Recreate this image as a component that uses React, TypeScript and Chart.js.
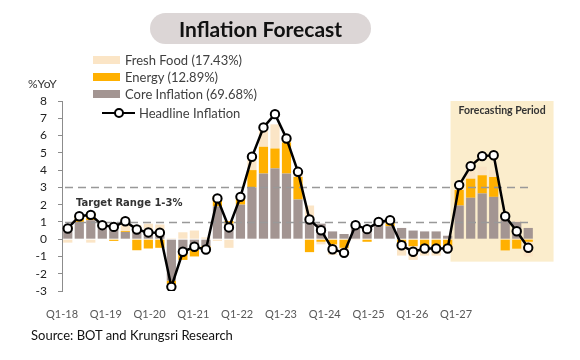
import React, { useEffect, useRef } from 'react';
import { Chart, registerables } from 'chart.js';

Chart.register(...registerables);

// ---------- data ----------
const quarters = [
  'Q1-18', 'Q2-18', 'Q3-18', 'Q4-18',
  'Q1-19', 'Q2-19', 'Q3-19', 'Q4-19',
  'Q1-20', 'Q2-20', 'Q3-20', 'Q4-20',
  'Q1-21', 'Q2-21', 'Q3-21', 'Q4-21',
  'Q1-22', 'Q2-22', 'Q3-22', 'Q4-22',
  'Q1-23', 'Q2-23', 'Q3-23', 'Q4-23',
  'Q1-24', 'Q2-24', 'Q3-24', 'Q4-24',
  'Q1-25', 'Q2-25', 'Q3-25', 'Q4-25',
  'Q1-26', 'Q2-26', 'Q3-26', 'Q4-26',
  'Q1-27', 'Q2-27', 'Q3-27', 'Q4-27',
  'Q1-28',
];

const tickLabels = ['Q1-18', 'Q1-19', 'Q1-20', 'Q1-21', 'Q1-22', 'Q1-23', 'Q1-24', 'Q1-25', 'Q1-26', 'Q1-27'];

const headline = [
  0.62, 1.33, 1.41, 0.81, 0.71, 1.04, 0.56, 0.39, 0.37, -2.76,
  -0.73, -0.44, -0.6, 2.36, 0.68, 2.45, 4.77, 6.47, 7.24, 5.83,
  3.9, 1.14, 0.52, -0.58, -0.79, 0.81, 0.58, 1.0, 1.1, -0.35,
  -0.73, -0.54, -0.54, -0.54, 3.13, 4.23, 4.81, 4.86, 1.33, 0.46,
  -0.5,
];

const core = [
  0.6, 1.0, 1.1, 0.8, 0.55, 0.42, 0.42, 0.33, 0.5, -2.4,
  -0.6, -0.6, -0.4, 1.9, 0.9, 2.0, 3.0, 3.8, 4.1, 3.8,
  2.3, 1.1, 0.9, 0.45, 0.3, 0.7, 0.7, 0.9, 0.75, 0.65,
  0.5, 0.45, 0.45, 0.2, 1.95, 2.4, 2.65, 2.45, 1.4, 1.0,
  0.65,
];

const energy = [
  0.15, 0.3, 0.45, 0.05, -0.1, 0.05, -0.64, -0.54, -0.5, -0.2,
  -0.6, -0.4, -0.2, 0.6, 0.15, 0.35, 1.0, 1.55, 1.15, 1.8,
  1.3, -0.75, -0.15, -0.3, -0.5, 0.15, -0.15, 0.1, 0.2, -0.35,
  -0.4, -0.45, -0.5, -0.4, 0.9, 1.1, 1.05, 1.15, -0.65, -0.55,
  -0.15,
];

const freshFood = [
  -0.2, 0.05, -0.2, 0, 0.2, 0.78, 0.4, 0.57, 0.35, 0.05,
  0.4, 0.5, 0.1, -0.1, -0.5, 0.05, 0.6, 0.95, 1.4, 0.3,
  0.2, 0.85, -0.15, -0.6, -0.45, -0.05, 0, 0, 0.1, -0.6,
  -0.8, -0.5, -0.45, -0.3, 0.45, 0.6, 0.5, 0.4, 0.2, 0.1,
  -0.85,
];

const targetRange = [1, 3];
// forecast shading, in quarter-index units (x) and %YoY (y)
const forecastX = [33.25, 42.2];
const forecastY = [8, -1.3];

const seriesLabels = ['Fresh Food (17.43%)', 'Energy (12.89%)', 'Core Inflation (69.68%)', 'Headline Inflation'];

// ---------- styles ----------
const C_CORE = '#a39592';
const C_ENERGY = '#ffb000';
const C_FOOD = '#fbe5c6';
const FONT = 'Lato, "DejaVu Sans", sans-serif';

const overlayPlugin = {
  id: 'overlays',
  beforeDatasetsDraw(chart: any) {
    const { ctx, scales } = chart;
    const x = scales.x;
    const y = scales.y;
    const x0 = x.getPixelForValue(forecastX[0]);
    const x1 = x.getPixelForValue(forecastX[1]);
    const y0 = y.getPixelForValue(forecastY[0]);
    const y1 = y.getPixelForValue(forecastY[1]);
    ctx.save();
    ctx.fillStyle = '#fbedcc';
    ctx.fillRect(x0, y0, x1 - x0, y1 - y0);
    ctx.fillStyle = '#333333';
    ctx.font = 'bold 10.5px ' + FONT;
    ctx.textAlign = 'center';
    ctx.textBaseline = 'middle';
    ctx.fillText('Forecasting Period', (x0 + x1) / 2, y0 + 10);
    ctx.restore();
  },
  beforeDatasetDraw(chart: any, args: any) {
    if (args.meta.type !== 'line') return;
    const { ctx, chartArea, scales } = chart;
    const y = scales.y;
    ctx.save();
    ctx.strokeStyle = '#999999';
    ctx.lineWidth = 1.5;
    ctx.setLineDash([8, 5]);
    targetRange.forEach((v) => {
      const py = Math.round(y.getPixelForValue(v)) + 0.5;
      ctx.beginPath();
      ctx.moveTo(chartArea.left + 3, py);
      ctx.lineTo(chartArea.right - 2, py);
      ctx.stroke();
    });
    ctx.setLineDash([]);
    ctx.fillStyle = '#333333';
    ctx.font = 'bold 10px "DejaVu Sans", sans-serif';
    ctx.textAlign = 'left';
    ctx.textBaseline = 'middle';
    ctx.fillText('Target Range ' + targetRange[0] + '-' + targetRange[1] + '%', chartArea.left + 14, y.getPixelForValue(2.08));
    ctx.restore();
  },
};

export default function App() {
  const canvasRef = useRef<HTMLCanvasElement | null>(null);

  useEffect(() => {
    if (!canvasRef.current) return;
    const chart = new Chart(canvasRef.current, {
      type: 'bar',
      data: {
        labels: quarters,
        datasets: [
          { type: 'bar', label: seriesLabels[2], data: core, backgroundColor: C_CORE, stack: 'comp', order: 1, barPercentage: 0.8, categoryPercentage: 1 },
          { type: 'bar', label: seriesLabels[1], data: energy, backgroundColor: C_ENERGY, stack: 'comp', order: 1, barPercentage: 0.8, categoryPercentage: 1 },
          { type: 'bar', label: seriesLabels[0], data: freshFood, backgroundColor: C_FOOD, stack: 'comp', order: 1, barPercentage: 0.8, categoryPercentage: 1 },
          {
            type: 'line', label: seriesLabels[3], data: headline, stack: 'headline', order: 0,
            borderColor: '#000000', borderWidth: 2.5, tension: 0,
            pointRadius: 4.2, pointBorderWidth: 2, pointBackgroundColor: '#ffffff', pointBorderColor: '#000000',
          },
        ],
      } as any,
      options: {
        animation: false,
        responsive: false,
        maintainAspectRatio: false,
        layout: { padding: { top: 101, right: 46, bottom: 39, left: 0 } },
        plugins: { legend: { display: false }, tooltip: { enabled: false } },
        scales: {
          x: { type: 'category', display: false, stacked: true, offset: true },
          xl: {
            type: 'linear', position: 'bottom', min: 0, max: 10.78, offset: false,
            grid: { display: false, drawTicks: false, offset: false },
            afterBuildTicks: (axis: any) => { axis.ticks = tickLabels.map((_, i) => ({ value: i })); },
            afterFit: (s: any) => { s.height = 30; },
            border: { display: false },
            ticks: {
              autoSkip: false, maxRotation: 0, padding: 17, color: '#595959', includeBounds: false,
              font: { family: FONT, size: 11 },
              callback: (v: any) => tickLabels[v] ?? '',
            },
          },
          y: {
            type: 'linear', min: -3, max: 8, stacked: true,
            afterFit: (s: any) => { s.width = 62; },
            grid: { drawOnChartArea: false, drawTicks: true, tickLength: 4, color: '#8c8c8c' },
            border: { display: true, color: '#8c8c8c', width: 1 },
            ticks: { stepSize: 1, autoSkip: false, padding: 11, color: '#222222', font: { family: FONT, size: 12 } },
          },
        },
      } as any,
      plugins: [overlayPlugin],
    });
    return () => chart.destroy();
  }, []);

  const boxItems = [
    { label: seriesLabels[0], color: C_FOOD, cy: 60 },
    { label: seriesLabels[1], color: C_ENERGY, cy: 77 },
    { label: seriesLabels[2], color: C_CORE, cy: 94 },
  ];

  return (
    <div style={{ position: 'fixed', left: 0, top: 0, width: 580, height: 360, background: '#ffffff', overflow: 'hidden', fontFamily: FONT }}>
      <canvas ref={canvasRef} width={580} height={360} style={{ position: 'absolute', left: 0, top: 0, width: 580, height: 360 }} />
      <div style={{ position: 'absolute', left: 150, top: 13, width: 221, height: 31, borderRadius: 16, background: '#dcd6d6', textAlign: 'center', lineHeight: '31px', fontSize: 21, fontWeight: 700, color: '#111111' }}>
        Inflation Forecast
      </div>
      {boxItems.map((it) => (
        <React.Fragment key={it.label}>
          <div style={{ position: 'absolute', left: 93, top: it.cy - 4, width: 27, height: 8, background: it.color }} />
          <div style={{ position: 'absolute', left: 125, top: it.cy - 8, lineHeight: '16px', fontSize: 13, color: '#404040', whiteSpace: 'nowrap' }}>{it.label}</div>
        </React.Fragment>
      ))}
      <div style={{ position: 'absolute', left: 102, top: 111.5, width: 33, height: 2.5, background: '#000' }} />
      <div style={{ position: 'absolute', left: 113.5, top: 108, width: 6, height: 6, borderRadius: '50%', border: '2px solid #000', background: '#fff' }} />
      <div style={{ position: 'absolute', left: 139, top: 105, lineHeight: '16px', fontSize: 13, color: '#404040', whiteSpace: 'nowrap' }}>{seriesLabels[3]}</div>
      <div style={{ position: 'absolute', left: 28, top: 76, lineHeight: '16px', fontSize: 12, color: '#333333' }}>%YoY</div>
      <div style={{ position: 'absolute', left: 31, top: 326, lineHeight: '18px', fontSize: 13, color: '#111111', whiteSpace: 'nowrap' }}>Source: BOT and Krungsri Research</div>
    </div>
  );
}
